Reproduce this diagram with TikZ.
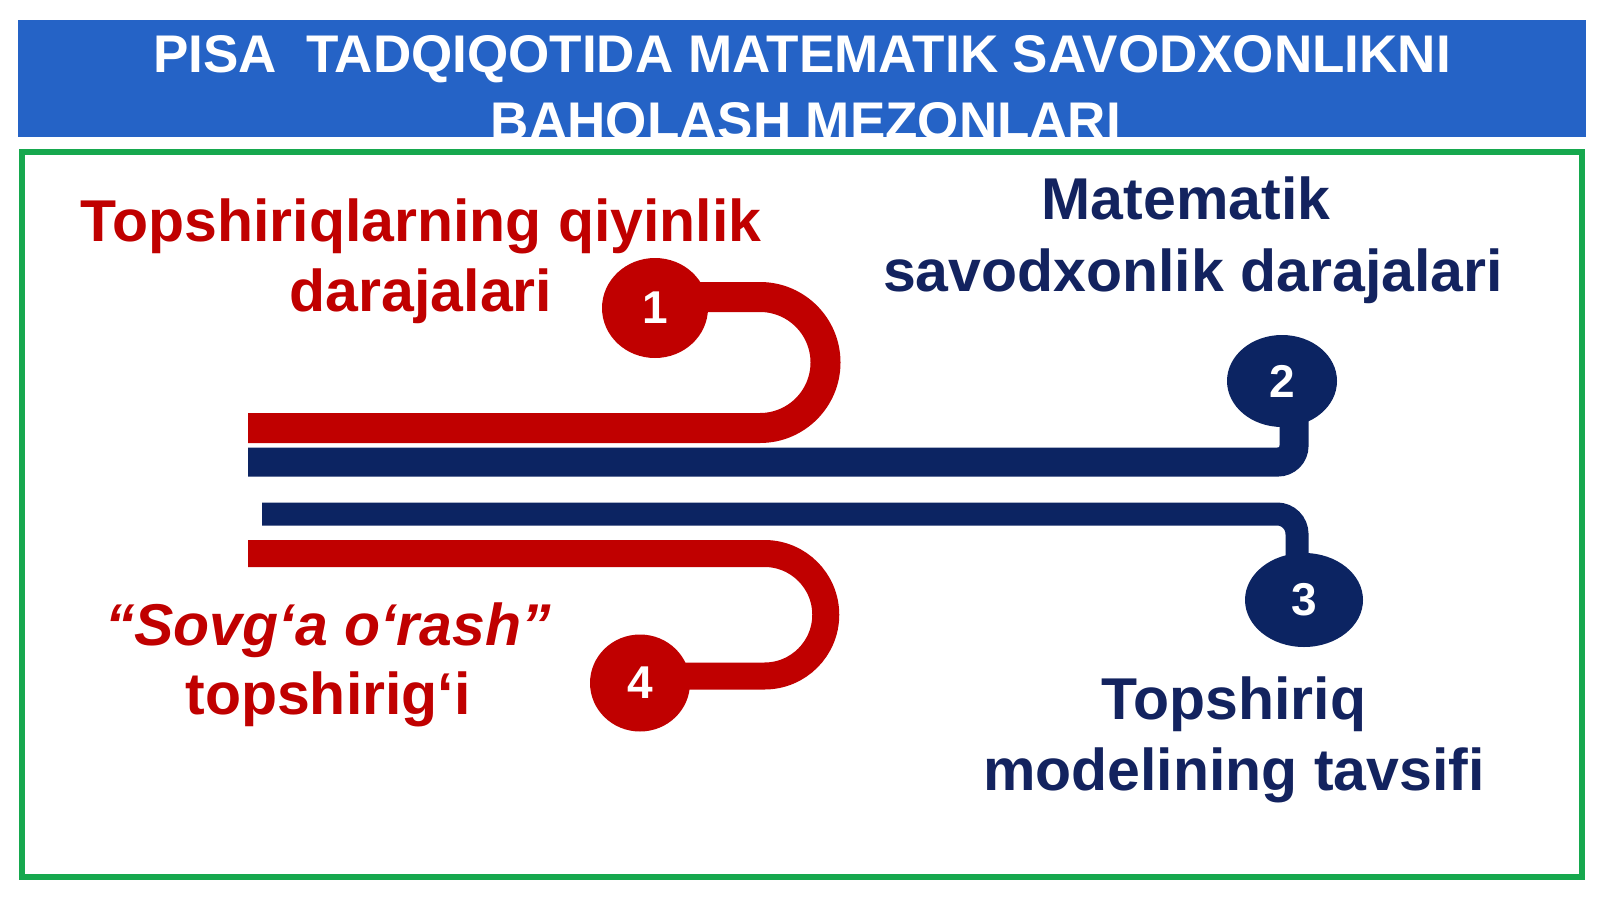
\documentclass[tikz,border=0pt]{standalone}
\usepackage{fontspec}
\setmainfont{Liberation Sans}
\usetikzlibrary{shapes.geometric,backgrounds}
\definecolor{hblue}{HTML}{2563C6}
\definecolor{fgreen}{HTML}{16A84E}
\definecolor{cred}{HTML}{C00000}
\definecolor{cnavy}{HTML}{0C2462}
\definecolor{tnavy}{HTML}{13235F}
\tikzset{
  htext/.style={anchor=base, inner sep=0pt, text=white, font=\fontsize{53}{53}\selectfont\bfseries},
  redtxt/.style={anchor=base, inner sep=0pt, text=cred, font=\fontsize{59}{59}\selectfont\bfseries},
  navytxt/.style={anchor=base, inner sep=0pt, text=tnavy, font=\fontsize{59}{59}\selectfont\bfseries},
  reddot/.style={ellipse, fill=cred, inner sep=0pt, text=white, font=\fontsize{46}{46}\selectfont\bfseries},
  navydot/.style={ellipse, fill=cnavy, inner sep=0pt, text=white, font=\fontsize{46}{46}\selectfont\bfseries},
  redband/.style={draw=cred, line width=30pt},
  redbandb/.style={draw=cred, line width=27pt},
  navyband/.style={draw=cnavy, line width=29pt},
  navybandb/.style={draw=cnavy, line width=23pt}
}
\begin{document}
\begin{tikzpicture}[x=1pt,y=-1pt]
\useasboundingbox (0,0) rectangle (1600,899);
% header
\fill[hblue] (18,20) rectangle (1586,137);
\node[htext] (h1) at (802,73) {PISA\ \ TADQIQOTIDA MATEMATIK SAVODXONLIKNI};
\node[htext] (h2) at (806,139) {BAHOLASH MEZONLARI};
\fill[white] (0,137) rectangle (1600,147);
% frame
\draw[fgreen, line width=6pt] (21.5,151.5) rectangle (1582,877);
% circles
\node[reddot, minimum width=106pt, minimum height=100pt] (c1) at (655,308) {1};
\node[navydot, minimum width=110pt, minimum height=92pt] (c2) at (1282,381) {2};
\node[navydot, minimum width=118pt, minimum height=94pt] (c3) at (1304,600) {3};
\node[reddot, minimum width=100pt, minimum height=97pt] (c4) at (640,683) {4};
% start points
\coordinate (r1s) at (248,428);
\coordinate (b1s) at (248,462);
\coordinate (b2s) at (262,514);
\coordinate (r2s) at (248,553.5);
\begin{scope}[on background layer]
\draw[redband] (r1s) -- (760,428) arc[start angle=90, end angle=-90, radius=65.5] -- (c1.center |- 0,297);
\draw[navyband, rounded corners=16pt] (b1s) -- (1294,462) -- (1294,381) -- (c2.center);
\draw[navybandb, rounded corners=20pt] (b2s) -- (1297,514) -- (1297,600) -- (c3.center);
\draw[redbandb] (r2s) -- (764.5,553.5) arc[start angle=-90, end angle=90, radius=61.25] -- (c4.center |- 0,676);
\end{scope}
% texts
\node[redtxt] (t1a) at (421,241) {Topshiriqlarning qiyinlik};
\node[redtxt] (t1b) at (421,311) {darajalari};
\node[navytxt] (t2a) at (1186,219) {Matematik};
\node[navytxt] (t2b) at (1193,291) {savodxonlik darajalari};
\node[redtxt, font=\fontsize{59}{59}\selectfont\bfseries\itshape] (t4a) at (328,645) {“Sovg‘a o‘rash”};
\node[redtxt] (t4b) at (328,714) {topshirig‘i};
\node[navytxt] (t3a) at (1234,719) {Topshiriq};
\node[navytxt] (t3b) at (1234,790) {modelining tavsifi};
\end{tikzpicture}
\end{document}
